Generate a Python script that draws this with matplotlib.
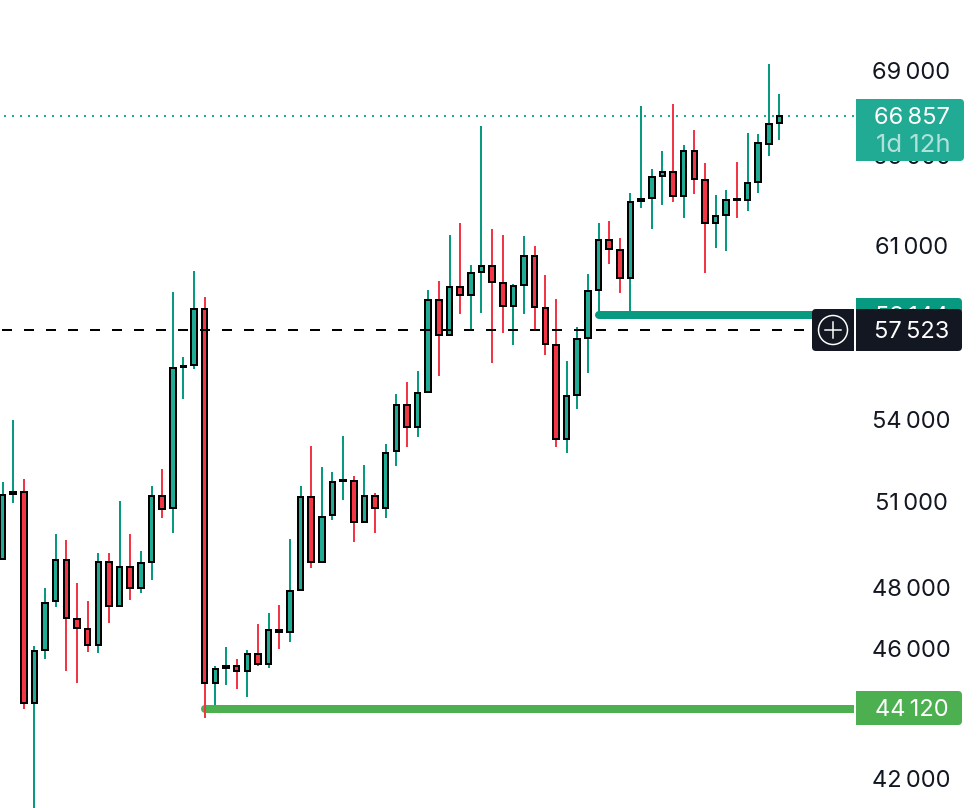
import matplotlib
matplotlib.use("Agg")
import matplotlib.pyplot as plt
from matplotlib.patches import FancyBboxPatch, Rectangle, Circle
from matplotlib.transforms import Affine2D

plt.rcParams['font.family'] = ['Inter', 'DejaVu Sans']

# Daily candles, oldest first
opens = [49011, 51296, 51368, 44306, 45983, 47590, 48977, 46993, 46665, 46144,
         48909, 47423, 48738, 48025, 48909, 51225, 50795, 56072, 56151, 58398,
         44931, 45406, 45470, 45310, 45854, 45533, 46632, 46567, 47958, 51189,
         48909, 50547, 51766, 51766, 50300, 51225, 50795, 52866, 54598, 53763,
         55098, 58768, 57344, 59306, 58974, 59933, 60186, 59473, 58521, 59389,
         60609, 58439, 56943, 53312, 54982, 57223, 59181, 61292, 60864, 59682,
         62990, 63122, 64104, 64283, 63211, 65237, 63924, 62027, 62375, 63078,
         63034, 63835, 65558, 66530]
highs = [51730, 54027, 51838, 46112, 48025, 49878, 49668, 48194, 47590, 49218,
         49218, 51045, 49878, 49287, 51585, 52203, 59098, 56466, 59975, 58892,
         45470, 46080, 45693, 45983, 46829, 47191, 47456, 49703, 51585, 53052,
         52276, 52093, 53424, 51947, 52349, 51332, 53125, 55021, 55485, 55915,
         59181, 59556, 61507, 62027, 60228, 66390, 61766, 61507, 59431, 61464,
         61035, 59807, 58809, 56308, 57666, 59849, 62027, 62114, 61378, 63344,
         67328, 64418, 65237, 67422, 65512, 66204, 64690, 63255, 63477, 64735,
         66064, 66019, 69340, 67897]
lows = [49011, 50974, 44120, 41000, 45693, 47390, 45310, 44931, 45919, 45887,
        46862, 47390, 47623, 47857, 48295, 50441, 49913, 54827, 55993, 43843,
        44244, 44868, 44742, 44493, 45470, 45406, 46015, 46241, 47924, 48703,
        48874, 50370, 51081, 49599, 50264, 49913, 50441, 52313, 53014, 53387,
        55059, 55719, 57304, 58194, 57545, 58235, 56229, 57424, 56943, 58194,
        57545, 56545, 53014, 52792, 54445, 55837, 58276, 60270, 59057, 58276,
        62682, 61766, 62814, 62946, 62244, 63300, 59891, 60949, 60822, 62244,
        62550, 63344, 65009, 65742]
closes = [51260, 51368, 44306, 45951, 47523, 48977, 47026, 46698, 46144, 48909,
          47423, 48738, 48025, 48874, 51225, 50760, 56033, 56111, 58398, 44931,
          45374, 45470, 45310, 45854, 45533, 46632, 46567, 47924, 51189, 48909,
          50476, 51730, 51802, 50300, 51225, 50795, 52792, 54598, 53763, 55059,
          58768, 57344, 59306, 58974, 59891, 60186, 59515, 58521, 59348, 60609,
          58480, 56983, 53312, 54943, 57183, 59140, 61292, 60907, 59682, 62946,
          63078, 64059, 64283, 63211, 65237, 63969, 62027, 62332, 63034, 63050,
          63790, 65604, 66483, 66857]

tick_values = [69000, 65000, 61000, 57000, 54000, 51000, 48000, 46000, 42000]
last_price = 66857
last_countdown = "1d 12h"
cursor_price = 57523
teal_level = 58144
green_level = 44120

UP_WICK = '#089981'
UP_BODY = '#22AB94'
DOWN = '#F23645'
DARK = '#131722'
GREEN = '#4CAF50'
W, H = 980, 808
TEXT_X = 911.5


def fmt(v):
    return f"{v:,}".replace(',', '\u2009')


fig = plt.figure(figsize=(W / 100, H / 100), dpi=100, facecolor='white')
ax = fig.add_axes([0, 0, 1, 1])
ax.set_yscale('log')
ax.set_xlim(-0.235, 91.84)
ax.set_ylim(41159, 72522)
ax.axis('off')

# pixel coordinates with the origin top left, for the overlays
pix = Affine2D().scale(1, -1).translate(0, H)


def price_y(p):
    return H - ax.transData.transform((0, p))[1]


px = 0.72  # one pixel in points

# candles
for i in range(len(opens)):
    up = closes[i] >= opens[i]
    ax.vlines(i, lows[i], highs[i], color=UP_WICK if up else DOWN, lw=2 * px, zorder=4)
    top, bottom = max(opens[i], closes[i]), min(opens[i], closes[i])
    ax.bar(i, top - bottom, bottom=bottom, width=0.52, color=UP_BODY if up else DOWN,
           edgecolor='black', linewidth=2 * px, zorder=5)

# horizontal levels
y = price_y(last_price)
ax.plot([4, 855], [y, y], transform=pix, color=UP_BODY, lw=2 * px,
        linestyle=(0, (1, 3)), dash_capstyle='butt', zorder=2)

y = price_y(teal_level)
ax.plot([599, 812], [y, y], transform=pix, color=UP_WICK, lw=8 * px,
        solid_capstyle='round', zorder=3)

y = price_y(green_level)
ax.plot([205, 854], [y, y], transform=pix, color=GREEN, lw=8 * px,
        solid_capstyle='butt', zorder=3)
ax.add_patch(Circle((205, y), 4, transform=pix, color=GREEN, lw=0, zorder=3))

y = price_y(cursor_price) - 0.5
ax.plot([2, 812], [y, y], transform=pix, color='black', lw=2 * px,
        linestyle=(0, (5, 6)), dash_capstyle='butt', zorder=6)

# price scale
for v in tick_values:
    ax.text(TEXT_X, price_y(v) - 1, fmt(v), transform=pix, ha='center', va='center_baseline',
            fontsize=17, color=DARK, zorder=7)


def label_box(x0, x1, y0, y1, color, z, round_side='right'):
    r = 4
    ax.add_patch(FancyBboxPatch((x0 + r, y0 + r), x1 - x0 - 2 * r, y1 - y0 - 2 * r,
                                boxstyle=f"round,pad={r},rounding_size={r}",
                                transform=pix, fc=color, ec='none', zorder=z))
    if round_side == 'right':
        ax.add_patch(Rectangle((x0, y0), 10, y1 - y0, transform=pix, fc=color, ec='none', zorder=z))
    else:
        ax.add_patch(Rectangle((x1 - 10, y0), 10, y1 - y0, transform=pix, fc=color, ec='none', zorder=z))


# last price label
label_box(856, 964, 99, 161, UP_BODY, 8)
ax.text(TEXT_X, 115, fmt(last_price), transform=pix, ha='center', va='center_baseline',
        fontsize=17, color='white', zorder=9)
ax.text(913, 143.5, last_countdown, transform=pix, ha='center', va='center_baseline',
        fontsize=18.5, color='white', alpha=0.65, zorder=9)

# level labels
y = price_y(teal_level)
label_box(856, 962, 298, 332, UP_WICK, 8)
ax.text(TEXT_X, y - 1, fmt(teal_level), transform=pix, ha='center', va='center_baseline',
        fontsize=17, color='white', zorder=9)

y = price_y(green_level)
label_box(856, 962, 691, 725, GREEN, 8)
ax.text(TEXT_X, y - 1, fmt(green_level), transform=pix, ha='center', va='center_baseline',
        fontsize=17, color='white', zorder=9)

# crosshair label and plus button
y = price_y(cursor_price)
label_box(856, 962, 309, 351, DARK, 10)
ax.text(TEXT_X, y - 1, fmt(cursor_price), transform=pix, ha='center', va='center_baseline',
        fontsize=17, color='white', zorder=11)
label_box(812, 854, 309, 351, DARK, 10, round_side='left')
ax.add_patch(Circle((833, 330), 14.5, transform=pix, fc='none', ec='white', lw=1.5 * px, zorder=11))
ax.plot([825, 841], [330, 330], transform=pix, color='white', lw=1.5 * px, zorder=11)
ax.plot([833, 833], [322, 338], transform=pix, color='white', lw=1.5 * px, zorder=11)

fig.savefig('out.png', dpi=100)
